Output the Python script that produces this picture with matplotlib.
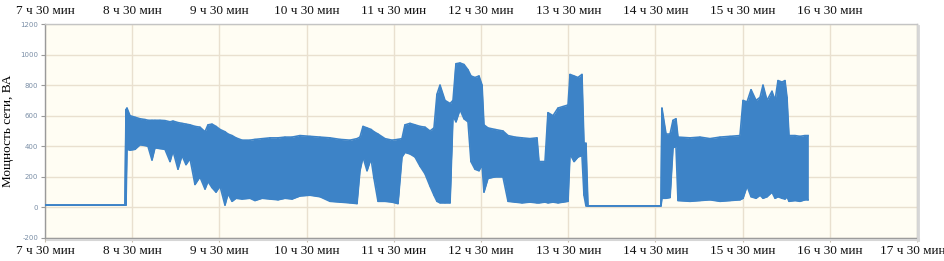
import numpy as np
import matplotlib
matplotlib.use("Agg")
import matplotlib.pyplot as plt
import matplotlib.transforms as mtransforms

# time in hours, upper / lower envelope of the power trace (VA)
t_hours = [7.500, 8.417, 8.429, 8.440, 8.475, 8.532, 8.589, 8.647, 8.681, 8.727,
           8.761, 8.819, 8.876, 8.934, 8.968, 9.025, 9.071, 9.117, 9.163, 9.220,
           9.277, 9.335, 9.369, 9.415, 9.461, 9.507, 9.564, 9.599, 9.645, 9.690,
           9.759, 9.851, 9.908, 9.989, 10.080, 10.172, 10.252, 10.333, 10.424, 10.539,
           10.654, 10.768, 10.883, 10.998, 11.078, 11.112, 11.147, 11.193, 11.239, 11.273,
           11.319, 11.399, 11.479, 11.548, 11.594, 11.628, 11.686, 11.743, 11.801, 11.858,
           11.915, 11.961, 11.995, 12.030, 12.087, 12.145, 12.179, 12.213, 12.259, 12.305,
           12.351, 12.385, 12.431, 12.477, 12.512, 12.534, 12.580, 12.661, 12.752, 12.810,
           12.890, 12.970, 13.062, 13.142, 13.165, 13.234, 13.268, 13.326, 13.383, 13.440,
           13.498, 13.521, 13.567, 13.612, 13.658, 13.681, 13.704, 13.727, 14.438, 14.564,
           14.575, 14.622, 14.668, 14.702, 14.736, 14.759, 14.897, 15.011, 15.126, 15.241,
           15.356, 15.470, 15.505, 15.551, 15.597, 15.654, 15.700, 15.734, 15.780, 15.837,
           15.872, 15.906, 15.952, 15.986, 16.009, 16.032, 16.101, 16.158, 16.215, 16.250]
p_high = [15, 15, 640, 650, 600, 590, 580, 575, 570, 570,
          570, 570, 568, 560, 565, 555, 550, 545, 540, 530,
          525, 495, 540, 545, 530, 510, 495, 480, 470, 455,
          440, 440, 445, 450, 455, 455, 460, 460, 470, 465,
          460, 455, 445, 440, 450, 460, 530, 520, 510, 495,
          480, 450, 440, 445, 450, 540, 550, 540, 530, 525,
          500, 520, 740, 800, 700, 680, 700, 940, 945, 935,
          900, 860, 850, 860, 800, 540, 520, 510, 500, 470,
          460, 455, 450, 455, 300, 300, 620, 600, 650, 660,
          670, 870, 860, 850, 870, 420, 420, 10, 10, 10,
          650, 480, 480, 570, 580, 460, 455, 460, 450, 460,
          465, 470, 700, 690, 770, 700, 720, 800, 700, 760,
          700, 830, 820, 830, 720, 470, 470, 465, 470, 470]
p_low = [15, 15, 15, 380, 375, 380, 410, 405, 400, 310,
         390, 385, 380, 300, 370, 250, 340, 280, 320, 150,
         200, 120, 170, 130, 100, 140, 15, 90, 40, 60,
         55, 60, 45, 60, 55, 50, 60, 55, 75, 80,
         70, 40, 35, 30, 25, 240, 330, 240, 320, 190,
         40, 40, 35, 25, 330, 360, 350, 330, 270, 220,
         140, 80, 40, 30, 30, 30, 600, 560, 640, 580,
         560, 300, 250, 240, 280, 100, 190, 200, 200, 40,
         35, 30, 35, 30, 30, 35, 30, 35, 30, 35,
         40, 350, 300, 330, 340, 80, 10, 10, 10, 10,
         60, 60, 65, 390, 400, 45, 40, 45, 50, 40,
         45, 50, 60, 140, 70, 60, 80, 60, 70, 100,
         60, 70, 60, 55, 70, 40, 45, 40, 50, 50]

x_ticks = [7.5, 8.5, 9.5, 10.5, 11.5, 12.5, 13.5, 14.5, 15.5, 16.5, 17.5]
x_labels = ["7 ч 30 мин", "8 ч 30 мин", "9 ч 30 мин", "10 ч 30 мин", "11 ч 30 мин",
            "12 ч 30 мин", "13 ч 30 мин", "14 ч 30 мин", "15 ч 30 мин", "16 ч 30 мин",
            "17 ч 30 мин"]
y_ticks = [-200, 0, 200, 400, 600, 800, 1000, 1200]

line_col = "#3d83c7"
serif = ["Liberation Serif", "DejaVu Serif"]

fig = plt.figure(figsize=(9.45, 2.61), dpi=100)
ax = fig.add_axes([45 / 945, 1 - 238 / 261, 872 / 945, 214 / 261])
ax.set_facecolor("#fffdf3")

t = np.array(t_hours)
hi = np.array(p_high)
lo = np.array(p_low)

ax.fill_between(t, lo, hi, color=line_col, linewidth=0, zorder=3)
# zig-zag between the envelope points gives the spiky texture
tz = np.repeat(t, 2)
vz = np.column_stack([hi, lo]).ravel()
ax.plot(tz, vz, color=line_col, lw=1.0, zorder=3)
ax.plot(t, hi, color=line_col, lw=1.2, zorder=3)
ax.plot(t, lo, color=line_col, lw=1.2, zorder=3)

ax.set_xlim(7.5, 17.5)
ax.set_ylim(-200, 1200)
ax.set_xticks(x_ticks)
ax.set_xticklabels(x_labels, family=serif, fontsize=9.5, color="#111111")
ax.set_yticks(y_ticks)
ax.set_yticklabels([str(v) for v in y_ticks], fontsize=5, color="#7a8ea6")
ax.tick_params(axis="y", length=3, width=0.8, color="#9a9a9a", pad=2)
ax.tick_params(axis="x", length=3, width=0.8, color="#c8bfae", pad=2)
ax.grid(True, color="#e9e0cf", lw=1.0, zorder=0)

# last bottom label sits right at the figure edge: nudge it a little left
last = ax.get_xticklabels()[-1]
last.set_transform(last.get_transform() +
                   mtransforms.ScaledTranslation(-4 / 100, 0, fig.dpi_scale_trans))

for side in ["left", "bottom"]:
    ax.spines[side].set_color("#9a9a9a")
    ax.spines[side].set_linewidth(1.0)
for side in ["top", "right"]:
    ax.spines[side].set_color("#c4c4c4")
    ax.spines[side].set_linewidth(1.0)

ax.set_ylabel("Мощность сети, ВА", family=serif, fontsize=9.5, labelpad=4)

# repeat the time labels along the top (last one is cut off in the original)
top = ax.secondary_xaxis("top")
top.set_xticks(x_ticks[:-1])
top.set_xticklabels(x_labels[:-1], family=serif, fontsize=9.5, color="#111111")
top.tick_params(length=0, pad=5)
top.spines["top"].set_visible(False)

# soft drop shadow on the right and bottom of the frame
fig.add_artist(plt.Line2D([918 / 945, 918 / 945], [1 - 240 / 261, 1 - 26 / 261],
                          color="#d6d6d6", lw=2, transform=fig.transFigure))
fig.add_artist(plt.Line2D([47 / 945, 919 / 945], [1 - 240 / 261, 1 - 240 / 261],
                          color="#d6d6d6", lw=1.5, transform=fig.transFigure))

fig.savefig("out.png", dpi=100)
